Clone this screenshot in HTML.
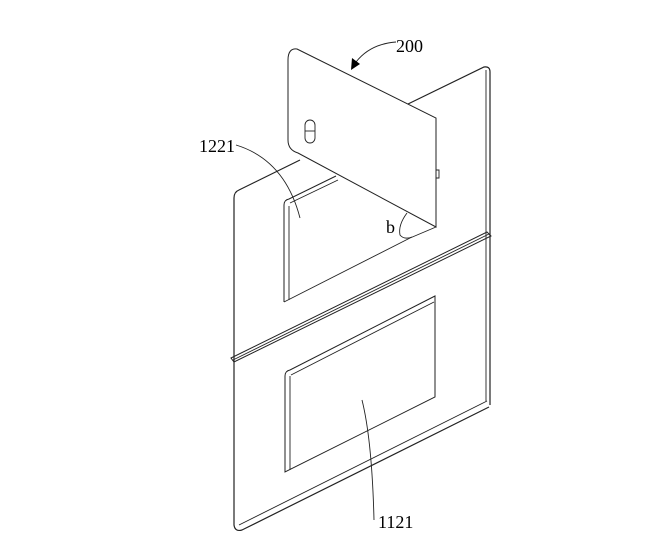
<!DOCTYPE html>
<html><head><meta charset="utf-8"><style>
html,body{margin:0;padding:0;background:#fff;}
svg{display:block;}
text{font-family:"Liberation Serif",serif;font-size:18px;fill:#000;}
</style></head><body>
<svg width="670" height="548" viewBox="0 0 670 548" xmlns="http://www.w3.org/2000/svg">
<g fill="none" stroke="#222" stroke-width="0.9">
<!-- main plate -->
<path d="M300,160 L239,190 Q234,192 234,198 L234,525 Q235,532 242,530 L489,407" stroke-width="1.2"/>
<path d="M239,525 L487,401" />
<path d="M408,104 L484,67 Q490,66 490,72 L490,405" stroke-width="1.2"/>
<path d="M486,70 L486,401"/>
<!-- hinge -->
<path d="M231,358 L487,232 L491,236 L234,362 Z" stroke-width="1"/>
<path d="M233,360 L489,234"/>
<!-- upper window -->
<path d="M284,302 L284,205 Q284,200 289,199 L336,176" stroke-width="1"/>
<path d="M289,206 L289,300"/>
<path d="M290,203 L338,180"/>
<path d="M284,302 L410,238"/>
<!-- lower window -->
<path d="M285,472 L285,376 Q285,371 290,370 L435,296 L435,397 Z" stroke-width="1"/>
<path d="M290,376 L290,470"/>
<path d="M291,375 L434,302"/>
<!-- panel 200 -->
<path d="M297,49 L436,118 L436,227 L298,153 Q288,150 288,140 L288,60 Q288,48 297,49 Z" stroke-width="1" fill="#fff"/>
<path d="M436,170 L439,170 L439,178 L436,178"/>
<rect x="305" y="120" width="10" height="23" rx="5"/>
<path d="M305,131 L315,131"/>
<path d="M410,238 L436,227"/>
<!-- leaders -->
<path d="M236,145 Q285,160 300,218"/>
<path d="M396,42 Q370,44 356,62"/>
<path d="M407,213 Q398,225 400,235 Q404,240 412,237"/>
<path d="M374,520 Q372,440 362,400"/>
</g>
<path d="M351,70 L352,58 L360,64 Z" fill="#000"/>
<text x="396" y="52">200</text>
<text x="199" y="152">1221</text>
<text x="386" y="233">b</text>
<text x="378" y="528">1121</text>
</svg>
</body></html>
